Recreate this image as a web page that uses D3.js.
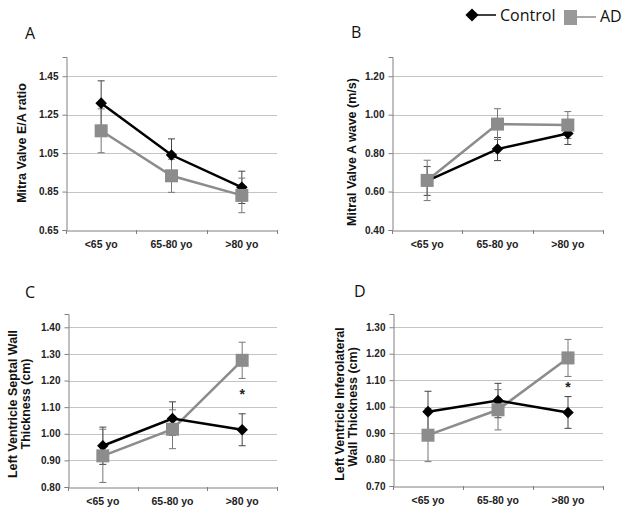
<!DOCTYPE html>
<html>
<head>
<meta charset="utf-8">
<script src="https://cdn.jsdelivr.net/npm/d3@7"></script>
<style>
  html, body { margin: 0; padding: 0; background: #fff; }
  svg { display: block; font-family: "Liberation Sans", Arial, sans-serif; }
</style>
</head>
<body>
<svg id="chart" width="629" height="515"></svg>
<script>
// ---------- DATA ----------
const categories = ["<65 yo", "65-80 yo", ">80 yo"];
const seriesNames = ["Control", "AD"];

const eaControl = [1.31, 1.04, 0.872];
const eaControlErr = [0.116, 0.084, 0.084];
const eaAD = [1.166, 0.932, 0.83];
const eaADErr = [0.114, 0.086, 0.09];

const aWaveControl = [0.655, 0.821, 0.902];
const aWaveControlErr = [0.075, 0.06, 0.057];
const aWaveAD = [0.658, 0.951, 0.946];
const aWaveADErr = [0.105, 0.08, 0.07];

const septalControl = [0.955, 1.057, 1.015];
const septalControlErr = [0.07, 0.063, 0.06];
const septalAD = [0.917, 1.017, 1.276];
const septalADErr = [0.10, 0.073, 0.068];

const inferoControl = [0.981, 1.023, 0.978];
const inferoControlErr = [0.077, 0.065, 0.06];
const inferoAD = [0.892, 0.988, 1.184];
const inferoADErr = [0.10, 0.076, 0.07];

const ticksA = [0.65, 0.85, 1.05, 1.25, 1.45];
const ticksB = [0.40, 0.60, 0.80, 1.00, 1.20];
const ticksC = [0.80, 0.90, 1.00, 1.10, 1.20, 1.30, 1.40];
const ticksD = [0.70, 0.80, 0.90, 1.00, 1.10, 1.20, 1.30];

// ---------- LAYOUT ----------
const panels = [
  { letter: "A", lx: 25, ly: 39, x0: 66, x1: 277, yB: 230, yT: 57, dom: [0.65, 1.55], ticks: ticksA,
    ctrl: eaControl, ctrlErr: eaControlErr, ad: eaAD, adErr: eaADErr,
    title: [{ t: "Mitra Valve E/A ratio", x: 26, y: 143 }], star: null },
  { letter: "B", lx: 351, ly: 38, x0: 392, x1: 603, yB: 230, yT: 57, dom: [0.40, 1.30], ticks: ticksB,
    ctrl: aWaveControl, ctrlErr: aWaveControlErr, ad: aWaveAD, adErr: aWaveADErr,
    title: [{ t: "Mitral Valve A wave (m/s)", x: 356, y: 152 }], star: null },
  { letter: "C", lx: 25, ly: 298, x0: 68, x1: 277, yB: 487, yT: 314, dom: [0.80, 1.45], ticks: ticksC,
    ctrl: septalControl, ctrlErr: septalControlErr, ad: septalAD, adErr: septalADErr,
    title: [{ t: "Left Ventricle Septal Wall", x: 17, y: 404 }, { t: "Thickness (cm)", x: 30, y: 404 }],
    star: { cat: 2, v: 1.15 } },
  { letter: "D", lx: 354, ly: 297, x0: 393, x1: 603, yB: 486, yT: 314, dom: [0.70, 1.35], ticks: ticksD,
    ctrl: inferoControl, ctrlErr: inferoControlErr, ad: inferoAD, adErr: inferoADErr,
    title: [{ t: "Left Ventricle Inferolateral", x: 344, y: 404 }, { t: "Wall Thickness (cm)", x: 357, y: 407 }],
    star: { cat: 2, v: 1.075 } }
];

const svg = d3.select("#chart");
const ctrlColor = "#000000";
const adColor = "#8c8c8c";
const gridColor = "#c4c4c4";
const axisColor = "#808080";

const diamond = d3.symbol().type(d3.symbolDiamond2 || d3.symbolDiamond).size(85);

panels.forEach(p => {
  const g = svg.append("g");
  const x = d3.scaleBand().domain(categories).range([p.x0, p.x1]).padding(0);
  const y = d3.scaleLinear().domain(p.dom).range([p.yB, p.yT]);
  const cx = c => x(c) + x.bandwidth() / 2;

  // panel letter
  g.append("text").attr("x", p.lx).attr("y", p.ly).attr("font-size", 16)
    .attr("font-family", "'Open Sans', 'Liberation Sans', sans-serif").attr("fill", "#111").text(p.letter);

  // gridlines
  g.selectAll(".grid").data(p.ticks.slice(1)).enter().append("line")
    .attr("x1", p.x0).attr("x2", p.x1)
    .attr("y1", d => Math.round(y(d)) + 0.5).attr("y2", d => Math.round(y(d)) + 0.5)
    .attr("stroke", gridColor).attr("stroke-width", 1);

  // y axis
  const yAxis = d3.axisLeft(y).tickValues(p.ticks).tickFormat(d3.format(".2f")).tickSize(4).tickPadding(4);
  const ya = g.append("g").attr("transform", `translate(${p.x0 + 0.5},0)`).call(yAxis);
  ya.select(".domain").attr("stroke", axisColor);
  ya.selectAll(".tick line").attr("stroke", axisColor);
  ya.selectAll(".tick text").attr("font-size", 10).attr("font-weight", "bold").attr("fill", "#222");

  // x axis
  const xa = g.append("g").attr("transform", `translate(0,${p.yB + 0.5})`)
    .call(d3.axisBottom(x).tickSize(0).tickPadding(10));
  xa.select(".domain").attr("stroke", axisColor);
  xa.selectAll(".tick text").attr("font-size", 10.5).attr("font-weight", "bold").attr("fill", "#222");
  // category boundary ticks
  const bounds = categories.map(c => x(c)).concat([p.x1]);
  g.selectAll(".xt").data(bounds).enter().append("line")
    .attr("x1", d => Math.round(d) + 0.5).attr("x2", d => Math.round(d) + 0.5)
    .attr("y1", p.yB).attr("y2", p.yB + 4).attr("stroke", axisColor);

  // y titles
  p.title.forEach(t => {
    g.append("text").attr("transform", `translate(${t.x},${t.y}) rotate(-90)`)
      .attr("text-anchor", "middle").attr("font-size", 12.5).attr("font-weight", "bold")
      .attr("fill", "#111").text(t.t);
  });

  // error bars
  const errBars = (vals, errs, color) => {
    categories.forEach((c, i) => {
      const xc = cx(c), yt = y(vals[i] + errs[i]), yb = y(vals[i] - errs[i]);
      g.append("line").attr("x1", xc).attr("x2", xc).attr("y1", yt).attr("y2", yb)
        .attr("stroke", color).attr("stroke-width", 1);
      [yt, yb].forEach(yy => g.append("line").attr("x1", xc - 3.5).attr("x2", xc + 3.5)
        .attr("y1", yy).attr("y2", yy).attr("stroke", color).attr("stroke-width", 1));
    });
  };
  errBars(p.ctrl, p.ctrlErr, "#444");
  errBars(p.ad, p.adErr, "#777");

  const line = d3.line().x((d, i) => cx(categories[i])).y(d => y(d));
  g.append("path").datum(p.ad).attr("d", line).attr("fill", "none")
    .attr("stroke", adColor).attr("stroke-width", 2.5);
  g.append("path").datum(p.ctrl).attr("d", line).attr("fill", "none")
    .attr("stroke", ctrlColor).attr("stroke-width", 2.5);

  // markers
  g.selectAll(".dm").data(p.ctrl).enter().append("path")
    .attr("d", diamond)
    .attr("transform", (d, i) => `translate(${cx(categories[i])},${y(d)})`)
    .attr("fill", ctrlColor);
  g.selectAll(".sq").data(p.ad).enter().append("rect")
    .attr("x", (d, i) => cx(categories[i]) - 6.5).attr("y", d => y(d) - 6.5)
    .attr("width", 13).attr("height", 13).attr("fill", adColor);

  if (p.star) {
    g.append("text").attr("x", cx(categories[p.star.cat])).attr("y", y(p.star.v))
      .attr("text-anchor", "middle").attr("dominant-baseline", "central")
      .attr("font-size", 14).attr("font-weight", "bold").attr("fill", "#222").text("*");
  }
});

// ---------- LEGEND ----------
const leg = svg.append("g");
leg.append("line").attr("x1", 474).attr("x2", 496).attr("y1", 15).attr("y2", 15)
  .attr("stroke", ctrlColor).attr("stroke-width", 1.5);
leg.append("path").attr("d", d3.symbol().type(d3.symbolDiamond2 || d3.symbolDiamond).size(110))
  .attr("transform", "translate(472,15)").attr("fill", ctrlColor);
leg.append("text").attr("x", 500).attr("y", 21).attr("font-size", 16)
  .attr("font-family", "'Open Sans', 'Liberation Sans', sans-serif").attr("fill", "#111").text(seriesNames[0]);
leg.append("line").attr("x1", 576).attr("x2", 596).attr("y1", 17).attr("y2", 17)
  .attr("stroke", adColor).attr("stroke-width", 1.5);
leg.append("rect").attr("x", 564).attr("y", 10).attr("width", 13).attr("height", 15).attr("fill", "#999");
leg.append("text").attr("x", 600).attr("y", 22).attr("font-size", 16)
  .attr("font-family", "'Open Sans', 'Liberation Sans', sans-serif").attr("fill", "#111").text(seriesNames[1]);
</script>
</body>
</html>
